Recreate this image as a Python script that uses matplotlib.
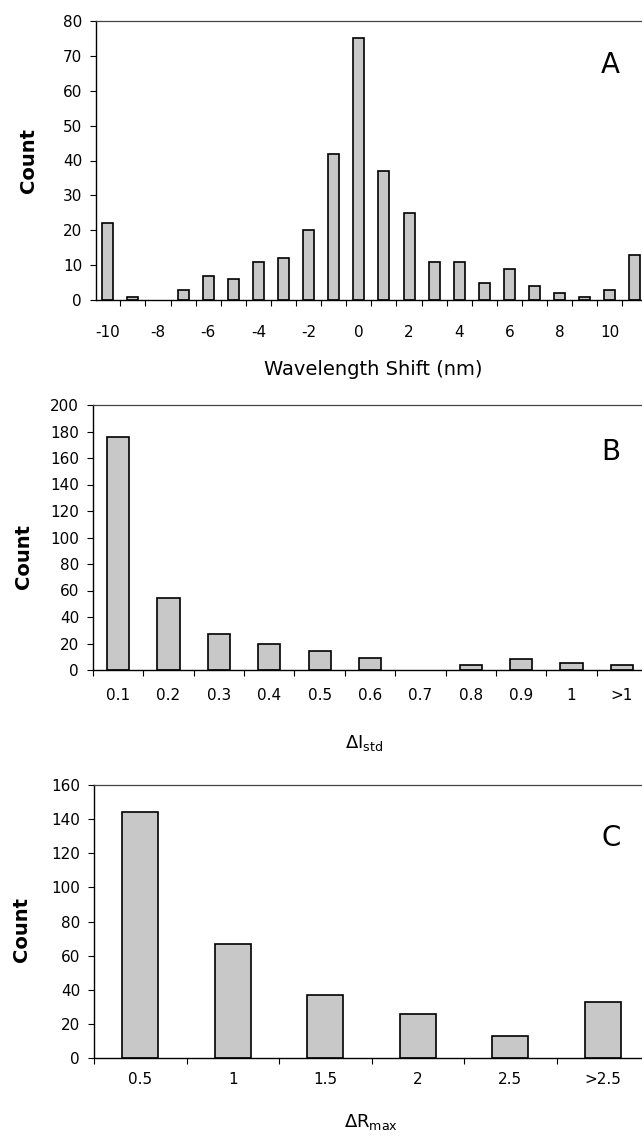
import matplotlib.pyplot as plt
from matplotlib.ticker import FixedLocator
import numpy as np

# panel A: wavelength shift histogram
shift_bins = list(range(-10, 12))
shift_counts = [22, 1, 0, 3, 7, 6, 11, 12, 20, 42, 75, 37, 25, 11, 11, 5, 9, 4, 2, 1, 3, 13]
shift_labels = ['-10', '-8', '-6', '-4', '-2', '0', '2', '4', '6', '8', '10']

# panel B: delta I std
istd_labels = ['0.1', '0.2', '0.3', '0.4', '0.5', '0.6', '0.7', '0.8', '0.9', '1', '>1']
istd_counts = [176, 54, 27, 20, 14, 9, 0, 4, 8, 5, 4]

# panel C: delta R max
rmax_labels = ['0.5', '1', '1.5', '2', '2.5', '>2.5']
rmax_counts = [144, 67, 37, 26, 13, 33]

W, H = 642, 1139
fig = plt.figure(figsize=(W / 100, H / 100), dpi=100)
plt.rcParams['font.family'] = ['DejaVu Sans']

bar_face = '#c8c8c8'


def px_axes(left, top, right, bottom):
    return fig.add_axes([left / W, 1 - bottom / H, (right - left) / W, (bottom - top) / H])


def style(ax, ymax, ystep, xpad):
    ax.set_ylim(0, ymax)
    ax.set_yticks(np.arange(0, ymax + 1, ystep))
    ax.spines['right'].set_visible(False)
    ax.spines['top'].set_linestyle((0, (1, 1)))
    ax.spines['top'].set_color('#444444')
    ax.spines['top'].set_linewidth(0.9)
    ax.spines['left'].set_linewidth(1.0)
    ax.spines['bottom'].set_linewidth(1.0)
    ax.tick_params(axis='y', direction='out', length=4, width=0.8, labelsize=11, pad=6)
    ax.tick_params(axis='x', which='major', length=0, labelsize=11, pad=xpad)
    ax.tick_params(axis='x', which='minor', direction='out', length=4, width=0.8)


def labels(ax, xl, xfs, xpos, ypos, letter, lpos):
    ax.set_xlabel(xl, fontsize=xfs, va='center')
    ax.xaxis.set_label_coords(*xpos)
    ax.set_ylabel('Count', fontsize=14, fontweight='bold', va='center')
    ax.yaxis.set_label_coords(*ypos)
    fig.text(lpos[0] / W, 1 - lpos[1] / H, letter, fontsize=20, ha='center', va='center')


def bars(ax, x, counts, width):
    edges = ['black' if c > 0 else 'none' for c in counts]
    ax.bar(x, counts, width=width, color=bar_face, edgecolor=edges, linewidth=1.2)


# A
axA = px_axes(96, 21, 647.5, 300)
bars(axA, shift_bins, shift_counts, 0.44)
axA.set_xlim(-10.47, 11.5)
axA.set_xticks(shift_bins[0:21:2])
axA.set_xticklabels(shift_labels)
axA.xaxis.set_minor_locator(FixedLocator(np.arange(-10.5, 11.6, 1)))
style(axA, 80, 10, 18)
labels(axA, 'Wavelength Shift (nm)', 14, (0.503, -0.25), (-0.123, 0.5), 'A', (610, 65))

# B
xb = np.arange(len(istd_labels))
axB = px_axes(93, 405, 647, 670)
bars(axB, xb, istd_counts, 0.44)
axB.set_xlim(-0.5, 10.5)
axB.set_xticks(xb)
axB.set_xticklabels(istd_labels)
axB.xaxis.set_minor_locator(FixedLocator(np.arange(-0.5, 10.6, 1)))
style(axB, 200, 20, 13)
labels(axB, r'$\Delta$I$_{\rm std}$', 13, (0.49, -0.275), (-0.126, 0.43), 'B', (611, 452))

# C
xc = np.arange(len(rmax_labels))
axC = px_axes(94, 785, 649, 1058)
bars(axC, xc, rmax_counts, 0.39)
axC.set_xlim(-0.5, 5.5)
axC.set_xticks(xc)
axC.set_xticklabels(rmax_labels)
axC.xaxis.set_minor_locator(FixedLocator(np.arange(-0.5, 5.6, 1)))
style(axC, 160, 20, 10)
labels(axC, r'$\Delta$R$_{\rm max}$', 13, (0.5, -0.235), (-0.13, 0.47), 'C', (611, 838))

fig.savefig('out.png', dpi=100)
